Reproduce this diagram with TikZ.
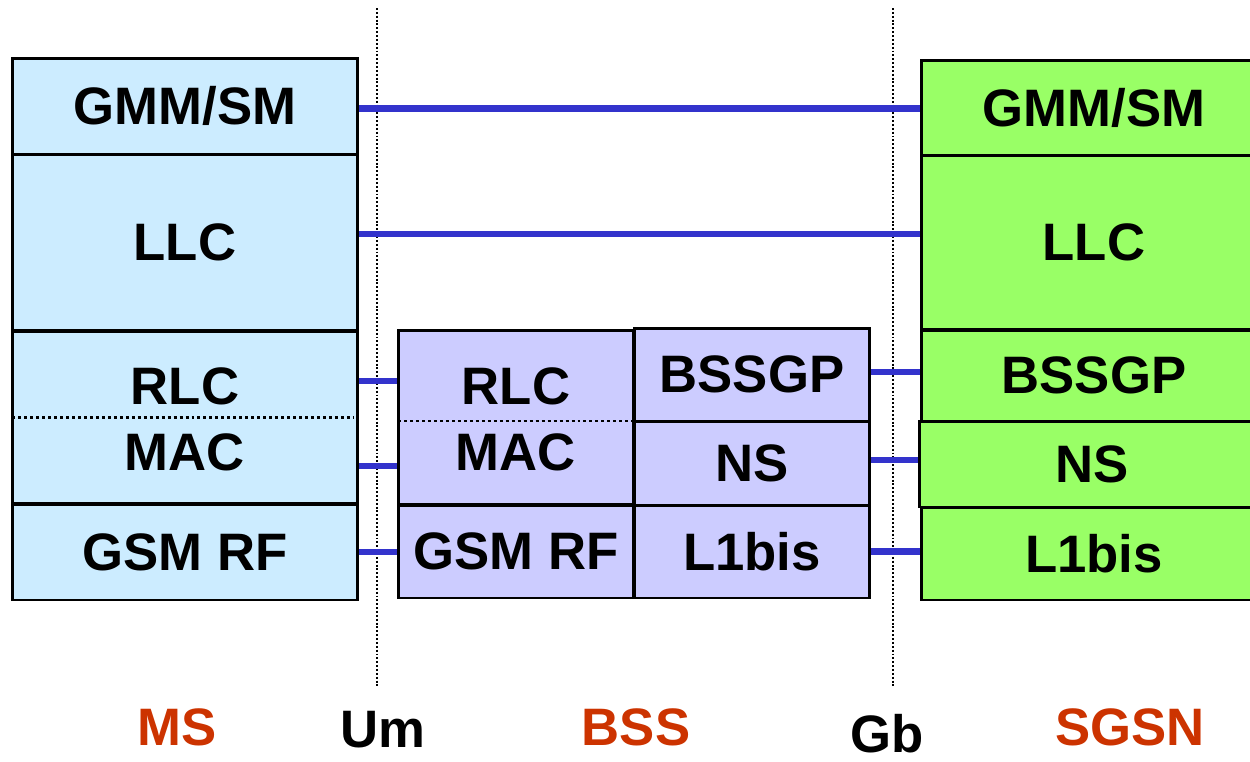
\documentclass[tikz,border=0pt]{standalone}
\usepackage{fontspec}
\setmainfont{Liberation Sans}
\usepackage{xcolor}
\usepackage{tikz}
\usetikzlibrary{positioning}
\definecolor{msblue}{RGB}{204,236,255}
\definecolor{bsspurple}{RGB}{204,204,255}
\definecolor{sgsngreen}{RGB}{153,255,102}
\definecolor{linkblue}{RGB}{51,51,204}
\definecolor{labelred}{RGB}{204,51,0}

\begin{document}
\begin{tikzpicture}[x=0.02cm,y=-0.02cm,
    font=\fontsize{30}{36}\selectfont\bfseries,
    mscell/.style={rectangle,draw=black,line width=1.7pt,fill=msblue,inner sep=0pt,minimum width=6.92cm},
    bsscell/.style={rectangle,draw=black,line width=1.7pt,fill=bsspurple,inner sep=0pt,minimum width=4.72cm},
    sgcell/.style={rectangle,draw=black,line width=1.7pt,fill=sgsngreen,inner sep=0pt,minimum width=6.92cm},
    txt/.style={inner sep=0pt},
    link/.style={draw=linkblue,line width=3.6pt},
    split/.style={draw=black,line width=1.5pt,dash pattern=on 1.7pt off 1.7pt},
    iface/.style={draw=black,line width=1.1pt,dash pattern=on 1.1pt off 1.1pt},
    entity/.style={inner sep=0pt,text=labelred}
  ]
    \useasboundingbox (0,0) rectangle (1250,761);
    % interface boundaries
    \coordinate (umtop) at (377,8);
    \coordinate (umbot) at (377,688);
    \coordinate (gbtop) at (893,8);
    \coordinate (gbbot) at (893,688);
    \draw[iface] (umtop) -- (umbot);
    \draw[iface] (gbtop) -- (gbbot);

    % MS stack
    \node[mscell,minimum height=1.92cm] (msgmm) at (185,106) {GMM/SM};
    \node[mscell,minimum height=3.54cm] (msllc) at (185,242.5) {LLC};
    \node[mscell,minimum height=3.46cm] (msrm) at (185,417.5) {};
    \node[mscell,minimum height=1.92cm] (msrf) at (185,552) {GSM RF};
    \node[txt] (msrlc) at (185,386) {RLC};
    \node[txt] (msmac) at (185,452) {MAC};
    \draw[split] ([xshift=1pt]msrm.west) -- ([xshift=-3pt]msrm.east);

    % BSS stack
    \node[bsscell,minimum height=3.5cm] (bssrm) at (516,417.5) {};
    \node[bsscell,minimum height=1.86cm] (bssrf) at (516,551.5) {GSM RF};
    \node[bsscell,minimum height=1.86cm] (bssgp) at (752,374.5) {BSSGP};
    \node[bsscell,minimum height=1.68cm] (bssns) at (752,463) {NS};
    \node[bsscell,minimum height=1.86cm] (bssl1) at (752,551.5) {L1bis};
    \node[txt] (bssrlc) at (516,386) {RLC};
    \node[txt] (bssmac) at (516,452) {MAC};
    \draw[split] ([xshift=1pt,yshift=-2pt]bssrm.west) -- ([xshift=-2pt,yshift=-2pt]bssrm.east);

    % SGSN stack
    \node[sgcell,minimum height=1.9cm] (sggmm) at (1094,107.5) {GMM/SM};
    \node[sgcell,minimum height=3.5cm] (sgllc) at (1094,242.5) {LLC};
    \node[sgcell,minimum height=1.82cm] (sgbssgp) at (1094,375.5) {BSSGP};
    \node[sgcell,minimum height=1.72cm] (sgns) at (1092,464) {NS};
    \node[sgcell,minimum height=1.86cm] (sgl1) at (1094,553.5) {L1bis};

    % peer links
    \draw[link] ([yshift=-1.5pt]msgmm.east) -- ([yshift=-1.5pt]msgmm.east -| sggmm.west);
    \draw[link] ([yshift=4.8pt]msllc.east) -- ([yshift=4.8pt]msllc.east -| sgllc.west);
    \draw[link] ([yshift=20.7pt]msrm.east) -- ([yshift=20.7pt]bssrm.west);
    \draw[link] ([yshift=-27.5pt]msrm.east) -- ([yshift=-27.5pt]bssrm.west);
    \draw[link] (msrf.east) -- (msrf.east -| bssrf.west);
    \draw[link] ([yshift=1.4pt]bssgp.east) -- ([yshift=1.4pt]bssgp.east -| sgbssgp.west);
    \draw[link] ([yshift=1.7pt]bssns.east) -- ([yshift=1.7pt]bssns.east -| sgns.west);
    \draw[link] (bssl1.east) -- (bssl1.east -| sgl1.west);

    % entity and interface labels
    \node[entity] (ms) at (177,727) {MS};
    \node[txt] (um) at (383,730) {Um};
    \node[entity] (bss) at (636,727) {BSS};
    \node[txt] (gb) at (887,734) {Gb};
    \node[entity] (sgsn) at (1130,727) {SGSN};
  \end{tikzpicture}
\end{document}
